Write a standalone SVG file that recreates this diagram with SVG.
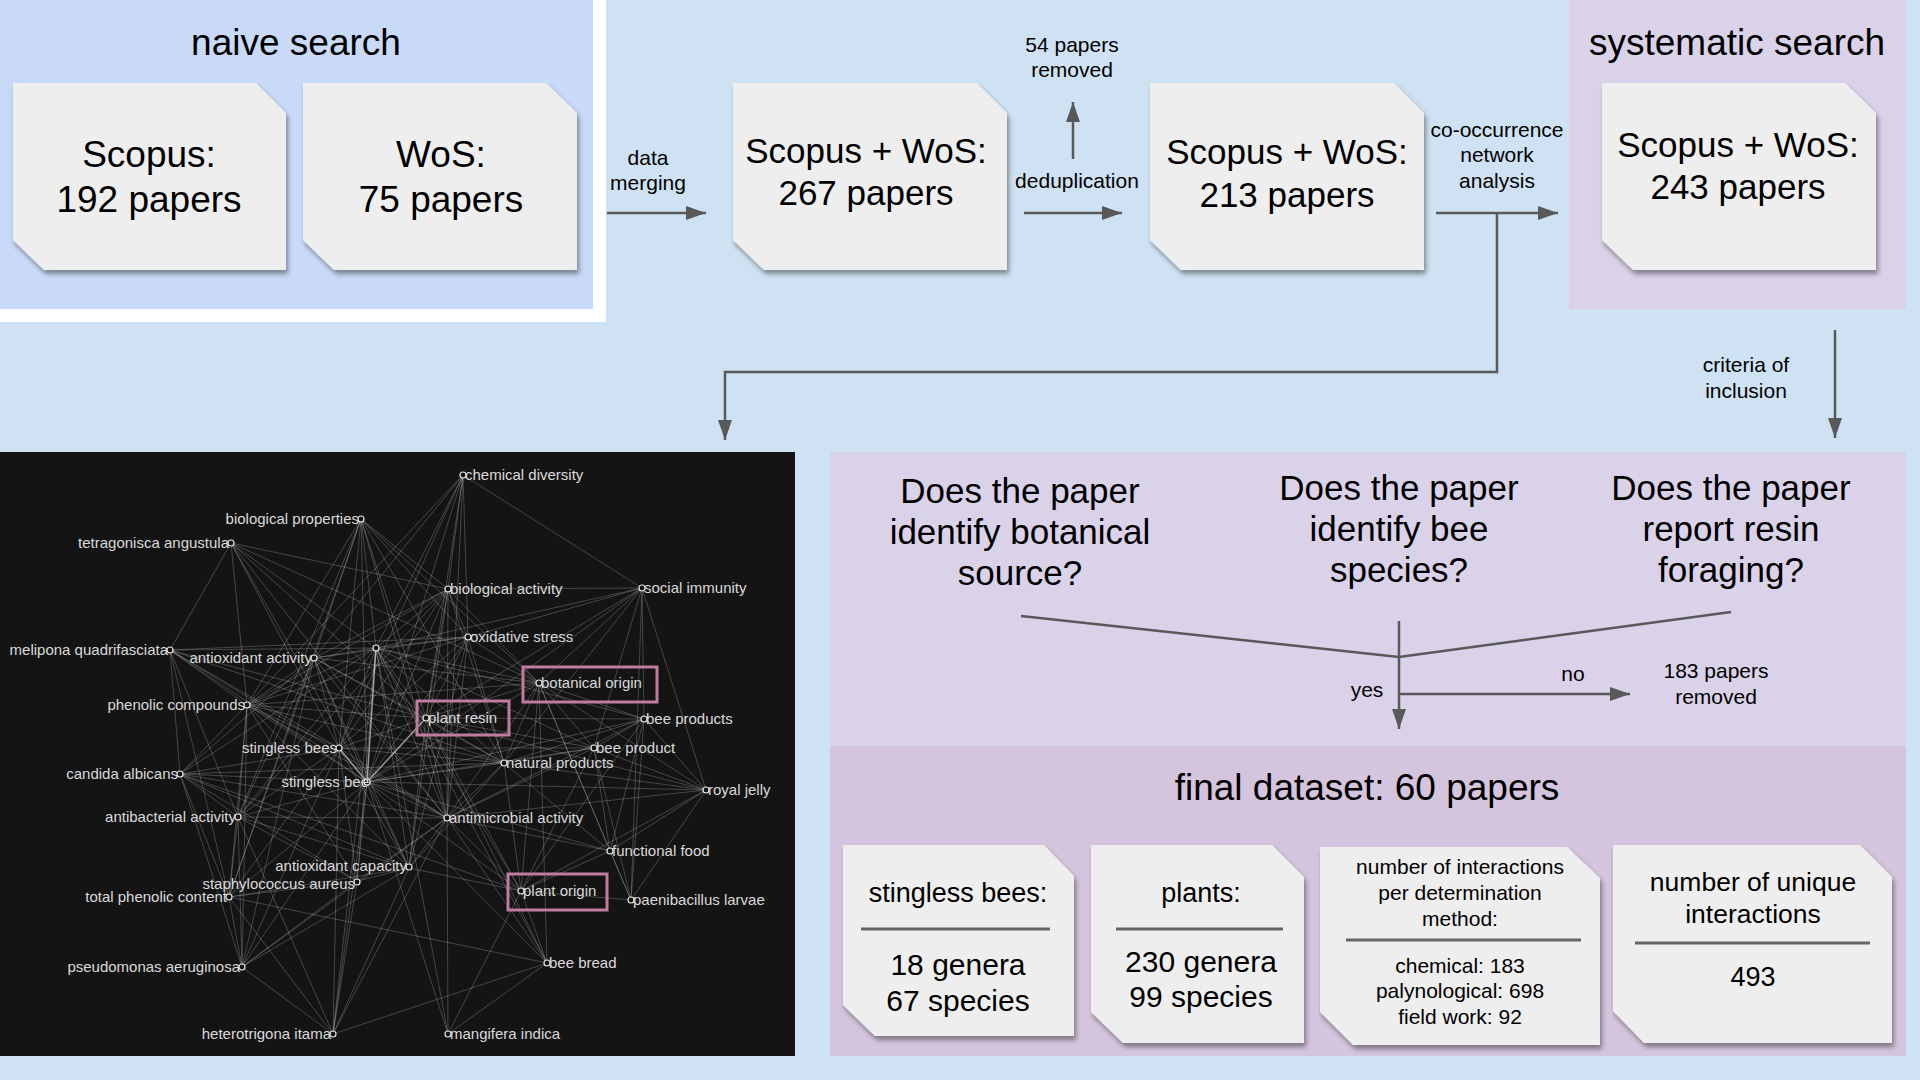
<svg xmlns="http://www.w3.org/2000/svg" width="1920" height="1080" viewBox="0 0 1920 1080">
<defs>
<filter id="sh" x="-10%" y="-10%" width="125%" height="125%">
<feDropShadow dx="2" dy="4" stdDeviation="2.5" flood-color="#000" flood-opacity="0.4"/>
</filter>
<marker id="ah" markerUnits="userSpaceOnUse" markerWidth="20" markerHeight="14" viewBox="0 0 20 14" refX="20" refY="7" orient="auto">
<path d="M0,0 L20,7 L0,14 z" fill="#595959"/>
</marker>
<style>
text{font-family:"Liberation Sans",Arial,sans-serif;fill:#000;text-anchor:middle}
.title{font-size:37px}
.big{font-size:35px}
.q{font-size:35px}
.sm{font-size:21px}
.md{font-size:27px}
.num{font-size:30px}
.box{fill:#eeeeee;filter:url(#sh)}
.ln{stroke:#595959;stroke-width:2.5;fill:none}
.div{stroke:#666;stroke-width:3}
.edge{stroke:#fff;stroke-opacity:0.21;stroke-width:1;fill:none}
.edgeb{stroke:#fff;stroke-opacity:0.55;stroke-width:1.5;fill:none}
.nd{fill:#141414;stroke:#e6e6e6;stroke-width:1.2}
.nl{font-size:15px;fill:#dadada}
.s{text-anchor:start}
.e{text-anchor:end}
.hl{fill:none;stroke:#c27ba0;stroke-width:3}
</style>
</defs>
<rect width="1920" height="1080" fill="#cfe2f3"/>

<!-- panels -->
<g id="panel-naive">
<rect x="0" y="0" width="606" height="322" fill="#ffffff"/>
<rect x="0" y="0" width="593" height="309" fill="#c9daf8"/>
<text class="title" x="296" y="55">naive search</text>
</g>
<g id="panel-systematic">
<rect x="1569" y="0" width="337" height="309" fill="#d9d2e9"/>
<text class="title" x="1737" y="55">systematic search</text>
</g>
<g id="panel-criteria">
<rect x="830" y="452" width="1076" height="294" fill="#d9d2e9"/>
<rect x="830" y="746" width="1076" height="310" fill="#d4c4dd"/>
</g>

<!-- nodes top row -->
<g id="node-scopus">
<polygon class="box" points="13,83 256,83 286,113 286,270 44,270 13,240"/>
<text class="title" x="149" y="167">Scopus:</text>
<text class="title" x="149" y="212">192 papers</text>
</g>
<g id="node-wos">
<polygon class="box" points="303,83 546,83 577,113 577,270 334,270 303,240"/>
<text class="title" x="441" y="167">WoS:</text>
<text class="title" x="441" y="212">75 papers</text>
</g>
<g id="node-merged">
<polygon class="box" points="733,83 977,83 1007,113 1007,270 764,270 733,240"/>
<text class="big" x="866" y="163">Scopus + WoS:</text>
<text class="big" x="866" y="205">267 papers</text>
</g>
<g id="node-dedup">
<polygon class="box" points="1150,83 1394,83 1424,113 1424,270 1181,270 1150,240"/>
<text class="big" x="1287" y="164">Scopus + WoS:</text>
<text class="big" x="1287" y="207">213 papers</text>
</g>
<g id="node-systematic">
<polygon class="box" points="1602,83 1845,83 1876,113 1876,270 1633,270 1602,240"/>
<text class="big" x="1738" y="157">Scopus + WoS:</text>
<text class="big" x="1738" y="199">243 papers</text>
</g>

<!-- labels of connectors -->
<g id="labels">
<text class="sm" x="648" y="165">data</text>
<text class="sm" x="648" y="190">merging</text>
<text class="sm" x="1072" y="52">54 papers</text>
<text class="sm" x="1072" y="77">removed</text>
<text class="sm" x="1077" y="188">deduplication</text>
<text class="sm" x="1497" y="137">co-occurrence</text>
<text class="sm" x="1497" y="162">network</text>
<text class="sm" x="1497" y="188">analysis</text>
<text class="sm" x="1746" y="372">criteria of</text>
<text class="sm" x="1746" y="398">inclusion</text>
<text class="sm" x="1367" y="697">yes</text>
<text class="sm" x="1573" y="681">no</text>
<text class="sm" x="1716" y="678">183 papers</text>
<text class="sm" x="1716" y="704">removed</text>
</g>

<!-- questions -->
<g id="node-q1">
<text class="q" x="1020" y="503">Does the paper</text>
<text class="q" x="1020" y="544">identify botanical</text>
<text class="q" x="1020" y="585">source?</text>
</g>
<g id="node-q2">
<text class="q" x="1399" y="500">Does the paper</text>
<text class="q" x="1399" y="541">identify bee</text>
<text class="q" x="1399" y="582">species?</text>
</g>
<g id="node-q3">
<text class="q" x="1731" y="500">Does the paper</text>
<text class="q" x="1731" y="541">report resin</text>
<text class="q" x="1731" y="582">foraging?</text>
</g>

<!-- final dataset -->
<g id="node-final">
<text x="1367" y="800" style="font-size:37px">final dataset: 60 papers</text>
</g>
<g id="node-bees">
<polygon class="box" points="843,845 1044,845 1074,876 1074,1036 875,1036 843,1005"/>
<text class="md" x="958" y="902">stingless bees:</text>
<line class="div" x1="861" y1="929" x2="1050" y2="929"/>
<text class="num" x="958" y="975">18 genera</text>
<text class="num" x="958" y="1011">67 species</text>
</g>
<g id="node-plants">
<polygon class="box" points="1091,845 1272,845 1304,877 1304,1043 1123,1043 1091,1012"/>
<text class="md" x="1201" y="902">plants:</text>
<line class="div" x1="1116" y1="929" x2="1283" y2="929"/>
<text class="num" x="1201" y="972">230 genera</text>
<text class="num" x="1201" y="1007">99 species</text>
</g>
<g id="node-interactions">
<polygon class="box" points="1320,847 1567,847 1600,878 1600,1045 1353,1045 1320,1012"/>
<text class="sm" x="1460" y="874">number of interactions</text>
<text class="sm" x="1460" y="900">per determination</text>
<text class="sm" x="1460" y="926">method:</text>
<line class="div" x1="1346" y1="940" x2="1581" y2="940"/>
<text class="sm" x="1460" y="973">chemical: 183</text>
<text class="sm" x="1460" y="998">palynological: 698</text>
<text class="sm" x="1460" y="1024">field work: 92</text>
</g>
<g id="node-unique">
<polygon class="box" points="1613,845 1860,845 1892,877 1892,1043 1644,1043 1613,1011"/>
<text x="1753" y="891" style="font-size:26.5px">number of unique</text>
<text x="1753" y="923" style="font-size:26.5px">interactions</text>
<line class="div" x1="1635" y1="943" x2="1870" y2="943"/>
<text class="md" x="1753" y="986">493</text>
</g>

<!-- connectors -->
<g id="connectors">
<line class="ln" x1="607" y1="213" x2="706" y2="213" marker-end="url(#ah)"/>
<line class="ln" x1="1024" y1="213" x2="1122" y2="213" marker-end="url(#ah)"/>
<line class="ln" x1="1073" y1="159" x2="1073" y2="102" marker-end="url(#ah)"/>
<line class="ln" x1="1436" y1="213" x2="1558" y2="213" marker-end="url(#ah)"/>
<polyline class="ln" points="1497,213 1497,372 725,372 725,440" marker-end="url(#ah)"/>
<line class="ln" x1="1835" y1="330" x2="1835" y2="438" marker-end="url(#ah)"/>
<line class="ln" x1="1021" y1="616" x2="1399" y2="657"/>
<line class="ln" x1="1731" y1="612" x2="1399" y2="657"/>
<line class="ln" x1="1399" y1="621" x2="1399" y2="729" marker-end="url(#ah)"/>
<line class="ln" x1="1399" y1="694" x2="1630" y2="694" marker-end="url(#ah)"/>
</g>

<!-- network graph -->
<g id="network">
<rect x="0" y="452" width="795" height="604" fill="#141414"/>
<g id="network-edges">
<path class="edge" d="M463 475L642 588M463 475L376 648M463 475L314 658M463 475L247 705M463 475L339 748M463 475L367 782M463 475L448 589M463 475L426 718M463 475L447 818M463 475L468 637"/>
<path class="edge" d="M361 519L448 589M361 519L376 648M361 519L314 658M361 519L247 705M361 519L339 748M361 519L367 782M361 519L447 818M361 519L238 817M361 519L229 897M361 519L426 718M361 519L468 637M361 519L504 763M361 519L539 683"/>
<path class="edge" d="M231 543L170 650M231 543L448 589M231 543L426 718M231 543L367 782M231 543L447 818M231 543L247 705M231 543L376 648M231 543L339 748M231 543L539 683"/>
<path class="edge" d="M170 650L376 648M170 650L468 637M170 650L339 748M170 650L367 782M170 650L247 705M170 650L180 774M170 650L238 817M170 650L447 818M170 650L229 897M170 650L426 718M170 650L504 763"/>
<path class="edge" d="M448 589L642 588M448 589L468 637M448 589L376 648M448 589L314 658M448 589L247 705M448 589L339 748M448 589L367 782M448 589L426 718M448 589L539 683M448 589L447 818M448 589L504 763M448 589L238 817M448 589L409 868"/>
<path class="edge" d="M642 588L468 637M642 588L426 718M642 588L539 683M642 588L644 719M642 588L367 782M642 588L376 648M642 588L706 790M642 588L594 748M642 588L504 763M642 588L631 900"/>
<path class="edge" d="M468 637L376 648M468 637L314 658M468 637L247 705M468 637L339 748M468 637L367 782M468 637L426 718M468 637L539 683M468 637L504 763M468 637L447 818M468 637L409 868"/>
<path class="edge" d="M314 658L376 648M314 658L247 705M314 658L339 748M314 658L367 782M314 658L426 718M314 658L539 683M314 658L504 763M314 658L447 818M314 658L180 774M314 658L238 817M314 658L409 868M314 658L229 897M314 658L242 967"/>
<path class="edge" d="M376 648L247 705M376 648L339 748M376 648L426 718M376 648L539 683M376 648L644 719M376 648L594 748M376 648L504 763M376 648L180 774M376 648L238 817M376 648L447 818M376 648L409 868M376 648L357 881M376 648L521 891M376 648L547 963M376 648L448 1034M376 648L333 1034"/>
<path class="edge" d="M539 683L426 718M539 683L644 719M539 683L594 748M539 683L504 763M539 683L367 782M539 683L706 790M539 683L447 818M539 683L521 891M539 683L610 851M539 683L631 900M539 683L547 963"/>
<path class="edge" d="M247 705L339 748M247 705L367 782M247 705L426 718M247 705L504 763M247 705L180 774M247 705L238 817M247 705L447 818M247 705L409 868M247 705L357 881M247 705L229 897M247 705L242 967M247 705L539 683"/>
<path class="edge" d="M426 718L339 748M426 718L504 763M426 718L644 719M426 718L594 748M426 718L447 818M426 718L409 868M426 718L521 891M426 718L547 963M426 718L706 790"/>
<path class="edge" d="M644 719L594 748M644 719L504 763M644 719L706 790M644 719L610 851M644 719L631 900M644 719L521 891M644 719L367 782M644 719L447 818"/>
<path class="edge" d="M339 748L504 763M339 748L180 774M339 748L238 817M339 748L447 818M339 748L409 868M339 748L357 881M339 748L229 897M339 748L242 967M339 748L333 1034M339 748L594 748"/>
<path class="edge" d="M594 748L504 763M594 748L706 790M594 748L447 818M594 748L610 851M594 748L521 891M594 748L367 782M594 748L631 900"/>
<path class="edge" d="M504 763L367 782M504 763L447 818M504 763L706 790M504 763L610 851M504 763L521 891M504 763L409 868M504 763L180 774"/>
<path class="edge" d="M180 774L367 782M180 774L238 817M180 774L447 818M180 774L409 868M180 774L357 881M180 774L229 897M180 774L242 967M180 774L521 891"/>
<path class="edge" d="M367 782L238 817M367 782L447 818M367 782L409 868M367 782L357 881M367 782L229 897M367 782L242 967M367 782L333 1034M367 782L448 1034M367 782L547 963M367 782L521 891M367 782L610 851M367 782L706 790"/>
<path class="edge" d="M706 790L447 818M706 790L610 851M706 790L521 891M706 790L631 900M238 817L447 818M238 817L409 868M238 817L357 881M238 817L229 897M238 817L242 967M238 817L333 1034"/>
<path class="edge" d="M447 818L409 868M447 818L357 881M447 818L521 891M447 818L547 963M447 818L448 1034M447 818L610 851M447 818L333 1034M447 818L242 967M610 851L521 891M610 851L631 900"/>
<path class="edge" d="M409 868L357 881M409 868L229 897M409 868L242 967M409 868L333 1034M409 868L521 891M357 881L229 897M357 881L242 967M357 881L333 1034M521 891L547 963M521 891L631 900M521 891L448 1034"/>
<path class="edge" d="M229 897L242 967M229 897L333 1034M229 897L547 963M547 963L333 1034M547 963L448 1034M242 967L333 1034"/>
<path class="edgeb" d="M376 648L367 782M339 748L367 782M426 718L367 782"/>
</g>
<g id="net-chemical-diversity"><circle class="nd" cx="463" cy="475" r="3"/><text class="nl s" x="465" y="480">chemical diversity</text></g>
<g id="net-biological-properties"><circle class="nd" cx="361" cy="519" r="3"/><text class="nl e" x="359" y="524">biological properties</text></g>
<g id="net-tetragonisca-angustula"><circle class="nd" cx="231" cy="543" r="3"/><text class="nl e" x="229" y="548">tetragonisca angustula</text></g>
<g id="net-biological-activity"><circle class="nd" cx="448" cy="589" r="3"/><text class="nl s" x="450" y="594">biological activity</text></g>
<g id="net-social-immunity"><circle class="nd" cx="642" cy="588" r="3"/><text class="nl s" x="644" y="593">social immunity</text></g>
<g id="net-oxidative-stress"><circle class="nd" cx="468" cy="637" r="3"/><text class="nl s" x="470" y="642">oxidative stress</text></g>
<g id="net-melipona-quadrifasciata"><circle class="nd" cx="170" cy="650" r="3"/><text class="nl e" x="168" y="655">melipona quadrifasciata</text></g>
<g id="net-antioxidant-activity"><circle class="nd" cx="314" cy="658" r="3"/><text class="nl e" x="312" y="663">antioxidant activity</text></g>
<g id="net-hub"><circle class="nd" cx="376" cy="648" r="3"/></g>
<g id="net-botanical-origin"><circle class="nd" cx="539" cy="683" r="3"/><text class="nl s" x="541" y="688">botanical origin</text><rect class="hl" x="523" y="667" width="134" height="35"/></g>
<g id="net-phenolic-compounds"><circle class="nd" cx="247" cy="705" r="3"/><text class="nl e" x="245" y="710">phenolic compounds</text></g>
<g id="net-plant-resin"><circle class="nd" cx="426" cy="718" r="3"/><text class="nl s" x="428" y="723">plant resin</text><rect class="hl" x="417" y="701" width="92" height="34"/></g>
<g id="net-bee-products"><circle class="nd" cx="644" cy="719" r="3"/><text class="nl s" x="646" y="724">bee products</text></g>
<g id="net-stingless-bees"><circle class="nd" cx="339" cy="748" r="3"/><text class="nl e" x="337" y="753">stingless bees</text></g>
<g id="net-bee-product"><circle class="nd" cx="594" cy="748" r="3"/><text class="nl s" x="596" y="753">bee product</text></g>
<g id="net-natural-products"><circle class="nd" cx="504" cy="763" r="3"/><text class="nl s" x="506" y="768">natural products</text></g>
<g id="net-candida-albicans"><circle class="nd" cx="180" cy="774" r="3"/><text class="nl e" x="178" y="779">candida albicans</text></g>
<g id="net-stingless-bee"><circle class="nd" cx="367" cy="782" r="3"/><text class="nl e" x="369" y="787">stingless bee</text></g>
<g id="net-royal-jelly"><circle class="nd" cx="706" cy="790" r="3"/><text class="nl s" x="708" y="795">royal jelly</text></g>
<g id="net-antibacterial-activity"><circle class="nd" cx="238" cy="817" r="3"/><text class="nl e" x="236" y="822">antibacterial activity</text></g>
<g id="net-antimicrobial-activity"><circle class="nd" cx="447" cy="818" r="3"/><text class="nl s" x="449" y="823">antimicrobial activity</text></g>
<g id="net-functional-food"><circle class="nd" cx="610" cy="851" r="3"/><text class="nl s" x="612" y="856">functional food</text></g>
<g id="net-antioxidant-capacity"><circle class="nd" cx="409" cy="867" r="3"/><text class="nl e" x="407" y="871">antioxidant capacity</text></g>
<g id="net-staphylococcus-aureus"><circle class="nd" cx="357" cy="882" r="3"/><text class="nl e" x="355" y="889">staphylococcus aureus</text></g>
<g id="net-plant-origin"><circle class="nd" cx="521" cy="891" r="3"/><text class="nl s" x="523" y="896">plant origin</text><rect class="hl" x="508" y="874" width="99" height="36"/></g>
<g id="net-paenibacillus-larvae"><circle class="nd" cx="631" cy="900" r="3"/><text class="nl s" x="633" y="905">paenibacillus larvae</text></g>
<g id="net-total-phenolic-content"><circle class="nd" cx="229" cy="897" r="3"/><text class="nl e" x="227" y="902">total phenolic content</text></g>
<g id="net-bee-bread"><circle class="nd" cx="547" cy="963" r="3"/><text class="nl s" x="549" y="968">bee bread</text></g>
<g id="net-pseudomonas-aeruginosa"><circle class="nd" cx="242" cy="967" r="3"/><text class="nl e" x="240" y="972">pseudomonas aeruginosa</text></g>
<g id="net-heterotrigona-itama"><circle class="nd" cx="333" cy="1034" r="3"/><text class="nl e" x="331" y="1039">heterotrigona itama</text></g>
<g id="net-mangifera-indica"><circle class="nd" cx="448" cy="1034" r="3"/><text class="nl s" x="450" y="1039">mangifera indica</text></g>
</g>
</svg>
